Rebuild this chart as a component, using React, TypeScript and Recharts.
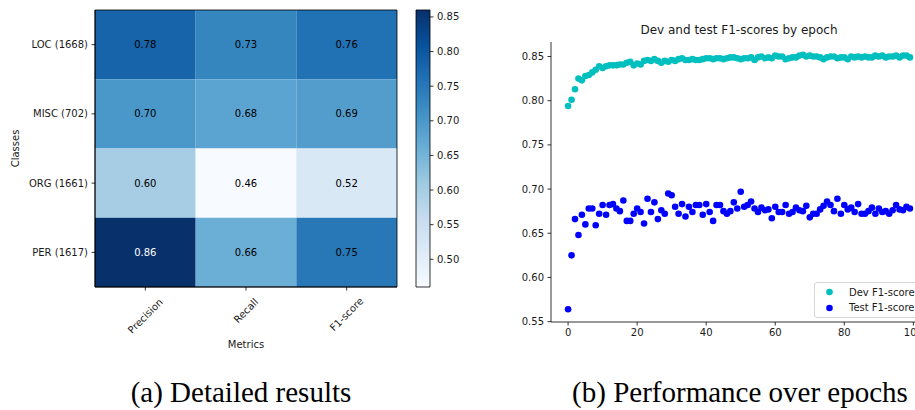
import React from 'react';
import {
  ComposedChart,
  ScatterChart,
  Scatter,
  XAxis,
  YAxis,
  ReferenceArea,
} from 'recharts';

// ---- Per-class scores (heatmap) ----
const classes = ['LOC (1668)', 'MISC (702)', 'ORG (1661)', 'PER (1617)'];
const metrics = ['Precision', 'Recall', 'F1-score'];
const precision = [0.78, 0.7, 0.6, 0.86];
const recall = [0.73, 0.68, 0.46, 0.66];
const f1score = [0.76, 0.69, 0.52, 0.75];
const colorbarTicks = [0.5, 0.55, 0.6, 0.65, 0.7, 0.75, 0.8, 0.85];

// ---- F1 per epoch ----
const devF1 = [
  0.794, 0.801, 0.813, 0.825, 0.823, 0.828, 0.829, 0.832, 0.835, 0.839,
  0.837, 0.839, 0.84, 0.84, 0.84, 0.841, 0.841, 0.843, 0.844, 0.84,
  0.842, 0.841, 0.845, 0.846, 0.845, 0.847, 0.845, 0.843, 0.845, 0.844,
  0.846, 0.845, 0.847, 0.848, 0.846, 0.846, 0.847, 0.846, 0.846, 0.847,
  0.848, 0.848, 0.847, 0.848, 0.848, 0.847, 0.848, 0.849, 0.849, 0.848,
  0.847, 0.848, 0.848, 0.849, 0.846, 0.849, 0.85, 0.848, 0.849, 0.848,
  0.851, 0.85, 0.85, 0.847, 0.848, 0.849, 0.849, 0.851, 0.852, 0.85,
  0.851, 0.85, 0.85, 0.849, 0.847, 0.849, 0.85, 0.85, 0.848, 0.849,
  0.849, 0.847, 0.85, 0.849, 0.85, 0.849, 0.85, 0.849, 0.849, 0.851,
  0.85, 0.851, 0.849, 0.85, 0.85, 0.851, 0.849, 0.851, 0.851, 0.849,
];
const testF1 = [
  0.564, 0.625, 0.666, 0.648, 0.671, 0.66, 0.678, 0.678, 0.659, 0.672,
  0.682, 0.671, 0.682, 0.683, 0.678, 0.675, 0.687, 0.664, 0.664, 0.672,
  0.678, 0.674, 0.661, 0.689, 0.674, 0.685, 0.666, 0.676, 0.672, 0.695,
  0.693, 0.68, 0.672, 0.683, 0.669, 0.68, 0.674, 0.682, 0.682, 0.671,
  0.683, 0.674, 0.664, 0.682, 0.682, 0.675, 0.672, 0.675, 0.685, 0.678,
  0.697, 0.68, 0.682, 0.686, 0.678, 0.674, 0.679, 0.676, 0.677, 0.667,
  0.68, 0.674, 0.674, 0.682, 0.672, 0.674, 0.679, 0.676, 0.675, 0.681,
  0.668, 0.672, 0.672, 0.677, 0.681, 0.686, 0.682, 0.675, 0.689, 0.672,
  0.682, 0.677, 0.679, 0.674, 0.683, 0.672, 0.672, 0.675, 0.679, 0.672,
  0.678, 0.674, 0.675, 0.672, 0.676, 0.682, 0.677, 0.676, 0.68, 0.678,
];
const epochTicks = [0, 20, 40, 60, 80, 100];
const f1Ticks = [0.55, 0.6, 0.65, 0.7, 0.75, 0.8, 0.85];

// matplotlib "Blues" colormap anchor colours
const BLUES = ['#f7fbff', '#deebf7', '#c6dbef', '#9ecae1', '#6baed6', '#4292c6', '#2171b5', '#08519c', '#08306b'];

const FONT = 'DejaVu Sans, sans-serif';
const INK = '#1a1a1a';

const hexToRgb = (h: string) => [1, 3, 5].map((i) => parseInt(h.slice(i, i + 2), 16));

function blues(t: number): string {
  const c = Math.max(0, Math.min(1, t)) * (BLUES.length - 1);
  const i = Math.min(BLUES.length - 2, Math.floor(c));
  const f = c - i;
  const a = hexToRgb(BLUES[i]);
  const b = hexToRgb(BLUES[i + 1]);
  const m = a.map((v, k) => Math.round(v + (b[k] - v) * f));
  return `rgb(${m[0]},${m[1]},${m[2]})`;
}

const scoreRows = [precision, recall, f1score];
const allScores = [...precision, ...recall, ...f1score];
const vmin = Math.min(...allScores);
const vmax = Math.max(...allScores);

const cells = classes.flatMap((_, r) =>
  metrics.map((_, c) => ({ row: r, col: c, value: scoreRows[c][r] }))
);

const devData = devF1.map((v, i) => ({ epoch: i, f1: v }));
const testData = testF1.map((v, i) => ({ epoch: i, f1: v }));

const MetricTick = (props: any) => {
  const { x, y, payload } = props;
  const label = metrics[payload.value] ?? '';
  const off = (label.length * 5 + 10) * 0.3536 + 2.5;
  const cy = y + off;
  return (
    <text
      x={x}
      y={cy}
      transform={`rotate(-45 ${x} ${cy})`}
      textAnchor="middle"
      dominantBaseline="central"
      fontFamily={FONT}
      fontSize={10}
      fill={INK}
    >
      {label}
    </text>
  );
};

const tickStyle = { fontFamily: FONT, fontSize: 10, fill: INK };

function Heatmap() {
  return (
    <ComposedChart
      width={460}
      height={360}
      data={cells}
      margin={{ top: 10, right: 63, bottom: 13, left: 10 }}
    >
      <XAxis
        type="number"
        dataKey="col"
        domain={[-0.5, 2.5]}
        ticks={[0, 1, 2]}
        height={60}
        tickSize={3.5}
        tickMargin={3.5}
        axisLine={{ stroke: '#000', strokeWidth: 0.8 }}
        tickLine={{ stroke: '#000', strokeWidth: 0.8 }}
        tick={<MetricTick />}
        allowDataOverflow
        label={{
          content: (p: any) => (
            <text
              x={p.viewBox.x + p.viewBox.width / 2}
              y={p.viewBox.y + 57}
              textAnchor="middle"
              dominantBaseline="central"
              fontFamily={FONT}
              fontSize={10}
              fill={INK}
            >
              Metrics
            </text>
          ),
        }}
      />
      <YAxis
        type="number"
        dataKey="row"
        domain={[-0.5, 3.5]}
        ticks={[0, 1, 2, 3]}
        reversed
        width={85}
        tickSize={3.5}
        tickMargin={3.5}
        axisLine={{ stroke: '#000', strokeWidth: 0.8 }}
        tickLine={{ stroke: '#000', strokeWidth: 0.8 }}
        tick={tickStyle}
        tickFormatter={(v: number) => classes[v] ?? ''}
        allowDataOverflow
        label={{
          content: (p: any) => {
            const cx = p.viewBox.x + 5;
            const cy = p.viewBox.y + p.viewBox.height / 2;
            return (
              <text
                x={cx}
                y={cy}
                transform={`rotate(-90 ${cx} ${cy})`}
                textAnchor="middle"
                dominantBaseline="central"
                fontFamily={FONT}
                fontSize={10}
                fill={INK}
              >
                Classes
              </text>
            );
          },
        }}
      />
      {cells.map((c) => {
        const t = (c.value - vmin) / (vmax - vmin);
        return (
          <ReferenceArea
            key={`${c.row}-${c.col}`}
            x1={c.col - 0.5}
            x2={c.col + 0.5}
            y1={c.row - 0.5}
            y2={c.row + 0.5}
            fill={blues(t)}
            fillOpacity={1}
            stroke="none"
            ifOverflow="visible"
            label={{
              value: c.value.toFixed(2),
              position: 'center',
              fill: t > 0.8 ? '#ffffff' : '#000000',
              fontSize: 10,
              fontFamily: FONT,
            }}
          />
        );
      })}
      <ReferenceArea
        x1={-0.5}
        x2={2.5}
        y1={-0.5}
        y2={3.5}
        fill="none"
        fillOpacity={0}
        stroke="#000"
        strokeWidth={0.8}
        ifOverflow="visible"
      />
    </ComposedChart>
  );
}

function ColorBar() {
  return (
    <ComposedChart
      width={60}
      height={360}
      data={[{ x: 0, y: vmin }, { x: 1, y: vmax }]}
      margin={{ top: 10, right: 0, bottom: 73, left: 6 }}
    >
      <defs>
        <linearGradient id="bluesBar" x1="0" y1="1" x2="0" y2="0">
          {BLUES.map((c, i) => (
            <stop key={c} offset={`${(i / (BLUES.length - 1)) * 100}%`} stopColor={c} />
          ))}
        </linearGradient>
      </defs>
      <XAxis type="number" dataKey="x" domain={[0, 1]} hide />
      <YAxis
        type="number"
        dataKey="y"
        orientation="right"
        domain={[vmin, vmax]}
        ticks={colorbarTicks}
        width={40}
        tickSize={3.5}
        tickMargin={3.5}
        axisLine={false}
        tickLine={{ stroke: '#000', strokeWidth: 0.8 }}
        tick={tickStyle}
        tickFormatter={(v: number) => v.toFixed(2)}
        allowDataOverflow
      />
      <ReferenceArea
        x1={0}
        x2={1}
        y1={vmin}
        y2={vmax}
        fill="url(#bluesBar)"
        fillOpacity={1}
        stroke="#000"
        strokeWidth={0.8}
        ifOverflow="visible"
      />
    </ComposedChart>
  );
}

const dot = (color: string) => (p: any) =>
  <circle cx={p.cx} cy={p.cy} r={3.3} fill={color} />;

function EpochChart() {
  return (
    <ScatterChart
      width={457}
      height={360}
      margin={{ top: 42, right: 0, bottom: 8, left: 31 }}
    >
      <XAxis
        xAxisId="top"
        orientation="top"
        type="number"
        dataKey="epoch"
        domain={[-4.95, 103.95]}
        height={0}
        tick={false}
        tickLine={false}
        axisLine={{ stroke: '#000', strokeWidth: 0.8 }}
        allowDataOverflow
      />
      <XAxis
        type="number"
        dataKey="epoch"
        domain={[-4.95, 103.95]}
        ticks={epochTicks}
        height={30}
        tickSize={3.5}
        tickMargin={3.5}
        axisLine={{ stroke: '#000', strokeWidth: 0.8 }}
        tickLine={{ stroke: '#000', strokeWidth: 0.8 }}
        tick={tickStyle}
        allowDataOverflow
      />
      <YAxis
        type="number"
        dataKey="f1"
        domain={[0.5496, 0.8664]}
        ticks={f1Ticks}
        width={50}
        tickSize={3.5}
        tickMargin={3.5}
        axisLine={{ stroke: '#000', strokeWidth: 0.8 }}
        tickLine={{ stroke: '#000', strokeWidth: 0.8 }}
        tick={tickStyle}
        tickFormatter={(v: number) => v.toFixed(2)}
        allowDataOverflow
      />
      <Scatter name="Dev F1-score" data={devData} shape={dot('#00bfbf')} isAnimationActive={false} />
      <Scatter name="Test F1-score" data={testData} shape={dot('#0000ff')} isAnimationActive={false} />
    </ScatterChart>
  );
}

const legendItems = [
  { label: 'Dev F1-score', color: '#00bfbf' },
  { label: 'Test F1-score', color: '#0000ff' },
];

export default function App() {
  return (
    <div
      style={{
        position: 'absolute',
        left: 0,
        top: 0,
        width: 915,
        height: 410,
        overflow: 'hidden',
        background: '#fff',
      }}
    >
      <div style={{ position: 'absolute', left: 0, top: 0 }}>
        <Heatmap />
      </div>
      <div style={{ position: 'absolute', left: 410, top: 0 }}>
        <ColorBar />
      </div>
      <div style={{ position: 'absolute', left: 470, top: 0 }}>
        <EpochChart />
      </div>
      <div
        style={{
          position: 'absolute',
          left: 539,
          top: 22,
          width: 400,
          textAlign: 'center',
          fontFamily: FONT,
          fontSize: 12,
          lineHeight: '16px',
          color: INK,
        }}
      >
        Dev and test F1-scores by epoch
      </div>
      <div
        style={{
          position: 'absolute',
          left: 814,
          top: 282,
          width: 120,
          height: 34,
          border: '1px solid #d5d5d5',
          borderRadius: 3,
          background: 'rgba(255,255,255,0.8)',
          fontFamily: FONT,
          fontSize: 10,
          color: INK,
        }}
      >
        {legendItems.map((it, i) => (
          <div
            key={it.label}
            style={{ position: 'absolute', left: 0, top: 1 + i * 15.7, height: 16, display: 'flex', alignItems: 'center' }}
          >
            <svg width={34} height={16} style={{ display: 'block' }}>
              <circle cx={14.5} cy={8} r={3.3} fill={it.color} />
            </svg>
            <span style={{ whiteSpace: 'nowrap' }}>{it.label}</span>
          </div>
        ))}
      </div>
      <div
        style={{
          position: 'absolute',
          left: 41,
          top: 378,
          width: 400,
          textAlign: 'center',
          fontFamily: 'Liberation Serif, serif',
          fontSize: 29,
          lineHeight: '29px',
          color: '#000',
        }}
      >
        (a) Detailed results
      </div>
      <div
        style={{
          position: 'absolute',
          left: 540,
          top: 378,
          width: 400,
          textAlign: 'center',
          fontFamily: 'Liberation Serif, serif',
          fontSize: 29,
          lineHeight: '29px',
          color: '#000',
        }}
      >
        (b) Performance over epochs
      </div>
    </div>
  );
}
